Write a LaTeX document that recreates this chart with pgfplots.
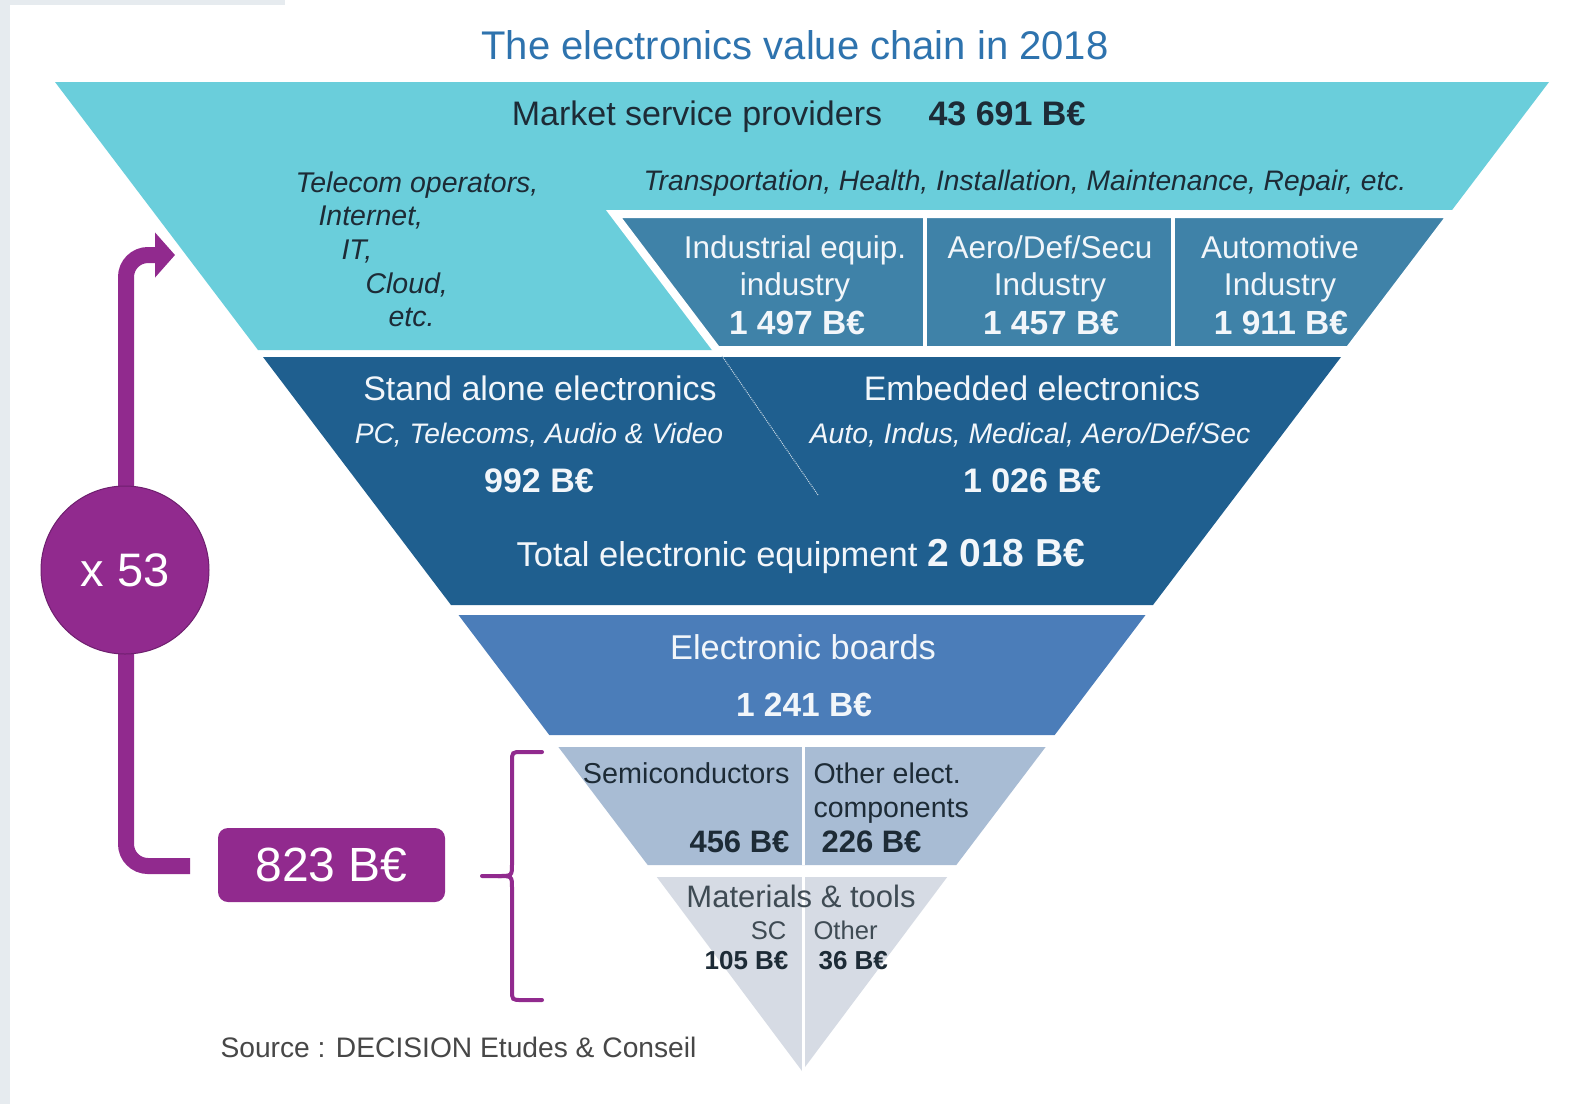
\documentclass[border=0pt]{standalone}
\usepackage{pgfplots}
\pgfplotsset{compat=1.18}
\usepackage{fontspec}
\setmainfont{Liberation Sans}
\usetikzlibrary{arrows.meta}
\definecolor{cyanband}{HTML}{6ACEDB}
\definecolor{indband}{HTML}{3F82A8}
\definecolor{eqband}{HTML}{1F5F8F}
\definecolor{boardband}{HTML}{4B7DB9}
\definecolor{compband}{HTML}{A8BCD4}
\definecolor{matband}{HTML}{D6DBE4}
\definecolor{titleblue}{HTML}{2E73AE}
\definecolor{darktxt}{HTML}{1D2B36}
\definecolor{lighttxt}{HTML}{F2F6FA}
\definecolor{purp}{HTML}{912A8E}
\definecolor{purpdark}{HTML}{6E1F6E}
\definecolor{bggray}{HTML}{E6EBEF}
\def\fs#1{\fontsize{#1}{#1}\selectfont}
\begin{document}
\begin{tikzpicture}
\begin{axis}[width=1570pt,height=1104pt,scale only axis,
  xmin=0,xmax=1570,ymin=0,ymax=1104,y dir=reverse,hide axis,clip=false,
  every node/.append style={inner sep=0pt,outer sep=0pt}]
% background
\addplot[fill=white,draw=none] coordinates {(0,0) (1570,0) (1570,1104) (0,1104)};
\addplot[fill=bggray,draw=none] coordinates {(0,0) (10,0) (10,1104) (0,1104)};
\addplot[fill=bggray,draw=none] coordinates {(0,0) (285,0) (285,5) (0,5)};
% pyramid bands
\addplot[fill=cyanband,draw=none] coordinates {(55,82) (1549,82) (1346,350) (258,350)};
\addplot[fill=indband,draw=white,line width=8pt,line join=miter] coordinates {(614,214) (1452,214) (1349,350) (717,350)} -- cycle;
\addplot[draw=white,line width=4pt] coordinates {(925,214) (925,350)};
\addplot[draw=white,line width=4pt] coordinates {(1173,214) (1173,350)};
\addplot[fill=eqband,draw=none] coordinates {(263,357) (1341,357) (1153,605) (451,605)};
\addplot[draw=white!75!eqband,line width=1pt,densely dotted] coordinates {(722,356) (818,495)};
\addplot[fill=boardband,draw=none] coordinates {(458.5,615) (1145.5,615) (1054.7,735) (549.3,735)};
\addplot[fill=compband,draw=none] coordinates {(558.4,747) (1045.6,747) (956.3,865) (647.7,865)};
\addplot[draw=white,line width=3pt] coordinates {(803,747) (803,865)};
\addplot[fill=matband,draw=none] coordinates {(656.8,877) (947.2,877) (802,1071)};
\addplot[draw=white,line width=3pt] coordinates {(803,877) (803,1071)};

% title
\node[anchor=base,text=titleblue] at (axis cs:795,59) {\fs{40}The electronics value chain in 2018};
% band 1
\node[anchor=base,text=darktxt] at (axis cs:697,125) {\fs{34}Market service providers};
\node[anchor=base,text=darktxt] at (axis cs:1007,125) {\fs{34}\bfseries 43 691 B€};
\begin{scope}[every node/.append style={anchor=base west,text=darktxt}]
\node at (axis cs:292,192) {\fs{28.5}\itshape Telecom operators,};
\node at (axis cs:315,225) {\fs{28.5}\itshape Internet,};
\node at (axis cs:338,259) {\fs{28.5}\itshape IT,};
\node at (axis cs:362,293) {\fs{28.5}\itshape Cloud,};
\node at (axis cs:385,326) {\fs{28.5}\itshape etc.};
\end{scope}
\node[anchor=base,text=darktxt] at (axis cs:1025,190) {\fs{28.2}\itshape Transportation, Health, Installation, Maintenance, Repair, etc.};
\begin{scope}[every node/.append style={anchor=base,text=lighttxt}]
\node at (axis cs:795,258) {\fs{31.5}Industrial equip.};
\node at (axis cs:795,295) {\fs{31.5}industry};
\node at (axis cs:797,334) {\fs{33.5}\bfseries 1 497 B€};
\node at (axis cs:1050,258) {\fs{31.5}Aero/Def/Secu};
\node at (axis cs:1050,295) {\fs{31.5}Industry};
\node at (axis cs:1051,334) {\fs{33.5}\bfseries 1 457 B€};
\node at (axis cs:1280,258) {\fs{31.5}Automotive};
\node at (axis cs:1280,295) {\fs{31.5}Industry};
\node at (axis cs:1281,334) {\fs{33.5}\bfseries 1 911 B€};
% band 2
\node at (axis cs:540,400) {\fs{34}Stand alone electronics};
\node at (axis cs:539,443) {\fs{28.2}\itshape PC, Telecoms, Audio \& Video};
\node at (axis cs:539,492) {\fs{34}\bfseries 992 B€};
\node at (axis cs:1032,400) {\fs{34}Embedded electronics};
\node at (axis cs:1030,443) {\fs{28.3}\itshape Auto, Indus, Medical, Aero/Def/Sec};
\node at (axis cs:1032,492) {\fs{34}\bfseries 1 026 B€};
\node at (axis cs:801,566) {\fs{34.5}Total electronic equipment \fs{39}\bfseries 2 018 B€};
% band 3
\node at (axis cs:803,659) {\fs{34.4}Electronic boards};
\node at (axis cs:804,716) {\fs{33.5}\bfseries 1 241 B€};
\end{scope}
% band 4
\node[anchor=base east,text=darktxt] at (axis cs:793,783) {\fs{28.8}Semiconductors};
\node[anchor=base west,text=darktxt] at (axis cs:810,783) {\fs{28.5}Other elect.};
\node[anchor=base west,text=darktxt] at (axis cs:810,817) {\fs{28.5}components};
\node[anchor=base east,text=darktxt] at (axis cs:793,852) {\fs{31}\bfseries 456 B€};
\node[anchor=base west,text=darktxt] at (axis cs:818,852) {\fs{31}\bfseries 226 B€};
% band 5
\node[anchor=base,text=darktxt!85] at (axis cs:801,907) {\fs{31}Materials \& tools};
\node[anchor=base east,text=darktxt!85] at (axis cs:790,939) {\fs{25.6}SC};
\node[anchor=base west,text=darktxt!85] at (axis cs:810,939) {\fs{25.6}Other};
\node[anchor=base east,text=darktxt] at (axis cs:792,969) {\fs{26}\bfseries 105 B€};
\node[anchor=base west,text=darktxt] at (axis cs:815,969) {\fs{26}\bfseries 36 B€};
% source
\node[anchor=base west,text=black!72] at (axis cs:217,1057) {\fs{28.2}Source : DECISION Etudes \& Conseil};

% purple annotations
\draw[purp,line width=16pt,rounded corners=22pt,-{Triangle[width=44pt,length=20pt]}]
  (axis cs:190,866) -- (axis cs:126,866) -- (axis cs:126,255) -- (axis cs:175,255);
\node[circle,fill=purp,draw=purpdark,line width=1pt,minimum size=168pt,text=white] at (axis cs:125,570) {\fs{47}x 53};
\node[fill=purp,rounded corners=10pt,minimum width=227pt,minimum height=74pt,text=white] at (axis cs:331.5,865) {\fs{48}823 B€};
\draw[purp,line width=4pt,line cap=round]
  (axis cs:542,752) -- (axis cs:522,752) .. controls (axis cs:512,752) .. (axis cs:512,762)
  -- (axis cs:512,864) .. controls (axis cs:512,876) .. (axis cs:498,876) -- (axis cs:482,876);
\draw[purp,line width=4pt,line cap=round]
  (axis cs:498,876) .. controls (axis cs:512,876) .. (axis cs:512,888)
  -- (axis cs:512,990) .. controls (axis cs:512,1000) .. (axis cs:522,1000) -- (axis cs:542,1000);
\end{axis}
\end{tikzpicture}
\end{document}
